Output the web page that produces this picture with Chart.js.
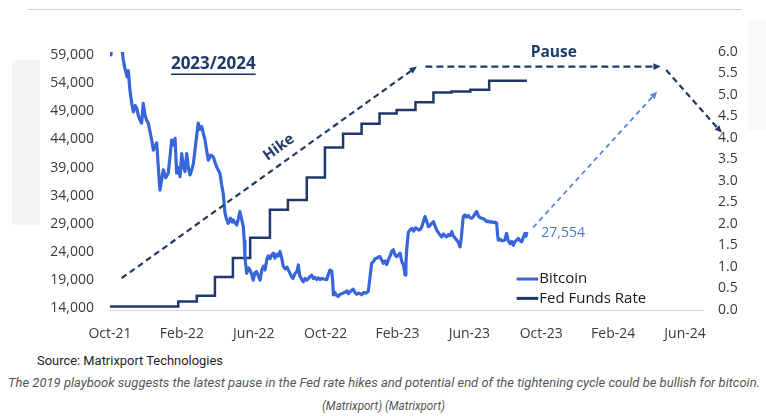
<!DOCTYPE html>
<html>
<head>
<meta charset="utf-8">
<script src="https://cdn.jsdelivr.net/npm/chart.js@4.4.0/dist/chart.umd.min.js"></script>
<style>
  html, body { margin: 0; padding: 0; background: #fff; }
  body { width: 766px; height: 416px; position: relative; overflow: hidden; font-family: Roboto, "Liberation Sans", sans-serif; }
  #wrap { position: absolute; left: 0; top: 0; width: 766px; height: 345px; }
  .topline { position: absolute; left: 28px; top: 9px; width: 714px; height: 1px; background: #cfcfcf; }
  .patch { position: absolute; background: #f5f5f5; }
  .fit { position: absolute; white-space: nowrap; transform-origin: 0 50%; line-height: 16px; }
  #source { left: 37px; top: 353px; font-size: 12.5px; color: #1e1e1e; }
  #cap1 { left: 8px; top: 375px; font-size: 12.5px; font-style: italic; color: #555; }
  #cap2 { left: 322px; top: 398px; font-size: 12.5px; font-style: italic; color: #555; }
</style>
</head>
<body>
<div class="patch" style="left:12px;top:60px;width:28px;height:165px;"></div>
<div class="patch" style="left:748px;top:20px;width:18px;height:110px;background:#f9f9f9;"></div>
<div class="topline"></div>
<div id="wrap"><canvas id="chart" width="766" height="345"></canvas></div>
<div class="fit" id="source" data-w="186">Source: Matrixport Technologies</div>
<div class="fit" id="cap1" data-w="752">The 2019 playbook suggests the latest pause in the Fed rate hikes and potential end of the tightening cycle could be bullish for bitcoin.</div>
<div class="fit" id="cap2" data-w="123">(Matrixport) (Matrixport)</div>
<script>
// x positions are months counted from the first axis date (Oct-21 = 0)
const tickMonths = [0, 4, 8, 12, 16, 20, 24, 28, 32];
const tickLabels = ['Oct-21', 'Feb-22', 'Jun-22', 'Oct-22', 'Feb-23', 'Jun-23', 'Oct-23', 'Feb-24', 'Jun-24'];
const btcTicks = [14000, 19000, 24000, 29000, 34000, 39000, 44000, 49000, 54000, 59000];
const rateTicks = [0, 0.5, 1, 1.5, 2, 2.5, 3, 3.5, 4, 4.5, 5, 5.5, 6];

// Fed Funds Rate, value holds from the given month on
const fedMonth = [0, 3.8, 4.83, 5.84, 6.84, 7.8, 8.9, 9.9, 10.95, 11.96, 12.97, 14, 15, 15.95, 17, 18, 19, 20.05, 21.1, 23.2];
const fedRate = [0.08, 0.20, 0.33, 0.77, 1.21, 1.68, 2.33, 2.56, 3.08, 3.78, 4.10, 4.33, 4.57, 4.65, 4.83, 5.06, 5.08, 5.12, 5.33, 5.33];

// Bitcoin price (USD)
const btcMonth = [
  0.00, 0.05, 0.12, 0.35, 0.55, 0.68, 0.74, 0.80, 0.88, 0.95, 1.02, 1.10, 1.21, 1.30, 1.40, 1.49, 1.58, 1.67, 1.76, 1.85,
  1.95, 2.04, 2.13, 2.22, 2.32, 2.41, 2.50, 2.60, 2.68, 2.78, 2.87, 2.97, 3.10, 3.24, 3.35, 3.43, 3.52, 3.62, 3.71, 3.80,
  3.90, 3.99, 4.08, 4.17, 4.27, 4.36, 4.45, 4.55, 4.64, 4.78, 4.91, 5.00, 5.10, 5.20, 5.29, 5.38, 5.47, 5.60, 5.75, 5.85,
  5.94, 6.03, 6.12, 6.21, 6.30, 6.40, 6.49, 6.58, 6.70, 6.80, 6.86, 6.95, 7.05, 7.14, 7.23, 7.32, 7.42, 7.47, 7.51, 7.56,
  7.61, 7.70, 7.79, 7.88, 7.97, 8.06, 8.16, 8.25, 8.35, 8.45, 8.55, 8.63, 8.72, 8.80, 8.90, 9.00, 9.09, 9.18, 9.28, 9.37,
  9.46, 9.55, 9.64, 9.75, 9.85, 10.02, 10.10, 10.18, 10.30, 10.40, 10.48, 10.56, 10.66, 10.76, 10.85, 10.94, 11.02, 11.12, 11.22, 11.32,
  11.40, 11.50, 11.60, 11.70, 11.78, 11.90, 12.06, 12.15, 12.24, 12.34, 12.40, 12.43, 12.52, 12.60, 12.70, 12.80, 12.90, 12.98, 13.10, 13.20,
  13.26, 13.35, 13.45, 13.54, 13.63, 13.73, 13.82, 13.92, 14.01, 14.12, 14.25, 14.37, 14.45, 14.56, 14.66, 14.75, 14.84, 14.93, 15.02, 15.12,
  15.21, 15.30, 15.40, 15.49, 15.60, 15.69, 15.77, 15.86, 15.95, 16.05, 16.14, 16.24, 16.33, 16.42, 16.47, 16.51, 16.60, 16.69, 16.80, 16.90,
  17.00, 17.07, 17.17, 17.26, 17.35, 17.44, 17.53, 17.62, 17.72, 17.80, 17.90, 18.00, 18.09, 18.18, 18.28, 18.37, 18.46, 18.56, 18.65, 18.74,
  18.84, 18.93, 19.02, 19.11, 19.20, 19.30, 19.39, 19.48, 19.55, 19.62, 19.66, 19.75, 19.84, 19.94, 20.03, 20.13, 20.22, 20.32, 20.41, 20.50,
  20.60, 20.69, 20.78, 20.87, 20.96, 21.05, 21.15, 21.24, 21.33, 21.43, 21.52, 21.57, 21.61, 21.70, 21.80, 21.89, 21.98, 22.07, 22.16, 22.26,
  22.35, 22.44, 22.53, 22.63, 22.72, 22.82, 22.91, 23.00, 23.09, 23.15, 23.20
];
const btcPrice = [
  60800, 59000, 61500, 64000, 62000, 59800, 58200, 57000, 56000, 55100, 56200, 53000, 50400, 48900, 50000, 49500, 48200, 47400, 46900, 50400,
  48300, 47400, 46900, 45500, 43900, 42100, 42800, 43400, 39500, 35000, 36800, 38600, 37200, 38000, 41200, 43900, 43000, 44200, 38000, 39000,
  37400, 41500, 39200, 38300, 41500, 39000, 37700, 38600, 39700, 43500, 46900, 45800, 46300, 45000, 43900, 42000, 40300, 41200, 40900, 39900,
  39100, 38500, 38000, 36000, 34400, 30900, 29800, 29100, 30000, 29300, 29700, 29200, 28800, 29900, 31200, 29900, 28500, 26000, 23200, 21500,
  20200, 21200, 20800, 20100, 19000, 20300, 20500, 19800, 19000, 20800, 21500, 20800, 22600, 23300, 22800, 23500, 23800, 22900, 23600, 23300,
  24100, 23000, 21500, 21000, 21300, 20200, 19600, 19300, 20200, 20500, 21700, 19800, 19200, 18700, 19300, 19000, 19200, 19600, 19900, 19300,
  19500, 19100, 19400, 19100, 19300, 19200, 19100, 20000, 20800, 20600, 18500, 16400, 16800, 16300, 16100, 16500, 16600, 16700, 16900, 17100,
  16600, 16900, 17200, 17400, 16800, 16500, 16700, 16600, 16400, 16800, 16700, 17000, 19000, 22000, 22300, 22800, 22900, 23100, 23200, 22600,
  22000, 22400, 21800, 22600, 23400, 24200, 24400, 23500, 23200, 23500, 23800, 22300, 21700, 19900, 22000, 24400, 27500, 27900, 28200, 27700,
  28300, 28200, 27900, 28000, 28500, 29400, 30300, 29500, 28500, 28700, 29100, 29400, 28600, 27900, 27400, 27000, 26700, 27200, 26900, 26700,
  27100, 26900, 27600, 26800, 26500, 26100, 25700, 24900, 26500, 29000, 30300, 30600, 30200, 30500, 30100, 30000, 30300, 30800, 31200, 30400,
  30100, 30000, 29900, 29700, 29400, 29500, 29300, 29400, 29200, 29300, 29100, 27000, 26100, 26300, 26000, 26000, 26200, 27300, 26000, 25500,
  25900, 25200, 25800, 26100, 26400, 26000, 25800, 26600, 27300, 26800, 27554
];

const seriesNames = ['Bitcoin', 'Fed Funds Rate'];
const lastLabel = '27,554';

const navy = '#1f3a68';
const btcBlue = '#3766da';
const tickFont = { family: '"Open Sans", "Noto Sans", sans-serif', size: 14 };

function arrow(ctx, a, b, color, width, dash, head) {
  const ang = Math.atan2(b[1] - a[1], b[0] - a[0]);
  const hl = head ? 8 : 0;
  ctx.strokeStyle = color;
  ctx.lineWidth = width;
  ctx.setLineDash(dash);
  ctx.beginPath();
  ctx.moveTo(a[0], a[1]);
  ctx.lineTo(b[0] - Math.cos(ang) * hl * 0.7, b[1] - Math.sin(ang) * hl * 0.7);
  ctx.stroke();
  ctx.setLineDash([]);
  if (head) {
    ctx.fillStyle = color;
    ctx.beginPath();
    ctx.moveTo(b[0], b[1]);
    ctx.lineTo(b[0] - hl * Math.cos(ang - 0.42), b[1] - hl * Math.sin(ang - 0.42));
    ctx.lineTo(b[0] - hl * Math.cos(ang + 0.42), b[1] - hl * Math.sin(ang + 0.42));
    ctx.closePath();
    ctx.fill();
  }
}

// arrows, labels and the legend, placed in axis units
const annotations = {
  id: 'annotations',
  afterDraw(chart) {
    const { ctx, scales } = chart;
    const p = (m, r) => [scales.x.getPixelForValue(m), scales.yRate.getPixelForValue(r)];
    ctx.save();

    const hikeA = p(0.65, 0.74), hikeB = p(17.08, 5.66);
    arrow(ctx, hikeA, hikeB, navy, 2.2, [6, 4], true);
    arrow(ctx, p(17.55, 5.66), p(30.65, 5.66), navy, 2.2, [7, 4], true);
    arrow(ctx, p(30.95, 5.58), p(34.05, 4.12), navy, 2.2, [6, 4], true);
    arrow(ctx, p(23.55, 1.92), p(30.45, 5.08), '#5b86d0', 1.8, [5, 4], true);

    ctx.textBaseline = 'middle';
    // Hike
    const hc = p(9.4, 3.78);
    ctx.save();
    ctx.translate(hc[0], hc[1]);
    ctx.rotate(Math.atan2(hikeB[1] - hikeA[1], hikeB[0] - hikeA[0]));
    ctx.fillStyle = navy;
    ctx.textAlign = 'center';
    ctx.font = 'bold 15px "Open Sans", sans-serif';
    ctx.fillText('Hike', 0, 0);
    ctx.restore();

    // Pause
    const pc = p(24.7, 5.98);
    ctx.fillStyle = navy;
    ctx.textAlign = 'center';
    ctx.font = 'bold 15.5px "Open Sans", sans-serif';
    ctx.fillText('Pause', pc[0], pc[1]);

    // 2023/2024
    const yc = p(5.75, 5.71);
    ctx.font = 'bold 17px "Open Sans", sans-serif';
    ctx.fillText('2023/2024', yc[0], yc[1]);
    const tw = ctx.measureText('2023/2024').width;
    ctx.fillRect(yc[0] - tw / 2, yc[1] + 9, tw, 1.6);

    // last value
    const lc = p(24.0, 1.79);
    ctx.fillStyle = '#4a78cc';
    ctx.textAlign = 'left';
    ctx.font = '14px "Open Sans", sans-serif';
    ctx.fillText(lastLabel, lc[0], lc[1]);

    // legend
    const colors = [btcBlue, navy];
    const rows = [0.72, 0.27];
    ctx.font = '15px "Open Sans", sans-serif';
    rows.forEach((r, i) => {
      const a = p(22.63, r), b = p(23.83, r);
      ctx.strokeStyle = colors[i];
      ctx.lineWidth = 3;
      ctx.beginPath();
      ctx.moveTo(a[0], a[1]);
      ctx.lineTo(b[0], b[1]);
      ctx.stroke();
      ctx.fillStyle = '#1a1a1a';
      ctx.fillText(seriesNames[i], b[0] + 1, a[1]);
    });
    ctx.restore();
  }
};

new Chart(document.getElementById('chart'), {
  type: 'line',
  data: {
    datasets: [
      {
        label: seriesNames[0],
        data: btcMonth.map((m, i) => ({ x: m, y: btcPrice[i] })),
        yAxisID: 'yBtc',
        borderColor: btcBlue,
        borderWidth: 3.2,
        borderJoinStyle: 'round',
        pointRadius: 0,
        tension: 0,
        order: 1
      },
      {
        label: seriesNames[1],
        data: fedMonth.map((m, i) => ({ x: m, y: fedRate[i] })),
        yAxisID: 'yRate',
        borderColor: navy,
        borderWidth: 2.5,
        stepped: 'before',
        pointRadius: 0,
        order: 2
      }
    ]
  },
  options: {
    responsive: false,
    animation: false,
    devicePixelRatio: 1,
    layout: { padding: { top: 52, left: 0, right: 0, bottom: 0 } },
    plugins: { legend: { display: false }, tooltip: { enabled: false } },
    scales: {
      x: {
        type: 'linear',
        min: 0,
        max: 33,
        afterBuildTicks: (s) => { s.ticks = tickMonths.map(v => ({ value: v })); },
        afterFit: (s) => { s.height = 35; },
        grid: { display: false },
        border: { display: true, color: '#d6d6d6', width: 1 },
        ticks: {
          autoSkip: false,
          maxRotation: 0,
          padding: 8,
          color: '#3a3a3a',
          font: tickFont,
          callback: (v) => tickLabels[tickMonths.indexOf(v)]
        }
      },
      yBtc: {
        position: 'left',
        min: 13700,
        max: 59530,
        afterBuildTicks: (s) => { s.ticks = btcTicks.map(v => ({ value: v })); },
        afterFit: (s) => { s.width = 110; },
        grid: { display: false, drawTicks: false },
        border: { display: false },
        ticks: {
          padding: 16,
          color: '#3a3a3a',
          font: tickFont,
          callback: (v) => v.toLocaleString('en-US')
        }
      },
      yRate: {
        position: 'right',
        min: 0,
        max: 6,
        afterBuildTicks: (s) => { s.ticks = rateTicks.map(v => ({ value: v })); },
        afterFit: (s) => { s.width = 63; },
        grid: { display: false, drawTicks: false },
        border: { display: false },
        ticks: {
          padding: 15,
          color: '#3a3a3a',
          font: tickFont,
          callback: (v) => v.toFixed(1)
        }
      }
    }
  },
  plugins: [annotations]
});

// squeeze the caption lines to the widths seen in the source
document.querySelectorAll('.fit').forEach(el => {
  const w = el.getBoundingClientRect().width;
  el.style.transform = 'scaleX(' + (el.dataset.w / w) + ')';
});
</script>
</body>
</html>
